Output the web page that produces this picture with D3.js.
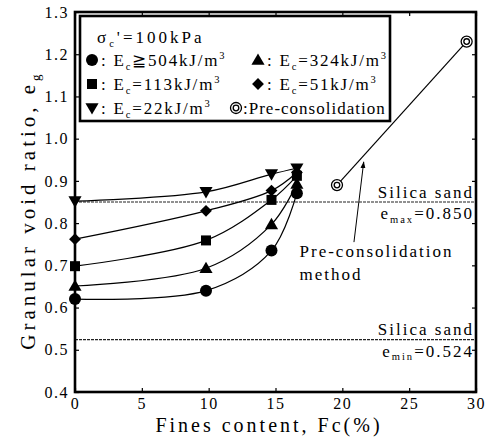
<!DOCTYPE html>
<html>
<head>
<meta charset="utf-8">
<script src="https://cdn.jsdelivr.net/npm/d3@7"></script>
<style>body { margin: 0; background: #fff; }</style>
</head>
<body>
<svg id="chart"></svg>
<script>
// Données
const fines = [0, 9.8, 14.7, 16.6];
const eg504 = [0.620, 0.640, 0.735, 0.871];
const eg324 = [0.651, 0.693, 0.797, 0.893];
const eg113 = [0.698, 0.759, 0.855, 0.912];
const eg51 = [0.762, 0.829, 0.877, 0.920];
const eg22 = [0.852, 0.874, 0.916, 0.930];
const preFines = [19.6, 29.3];
const preEg = [0.890, 1.230];
const eMax = 0.850, eMin = 0.524;
const xTicks = [0, 5, 10, 15, 20, 25, 30];
const yTicks = [0.4, 0.5, 0.6, 0.7, 0.8, 0.9, 1.0, 1.1, 1.2, 1.3];

const FONT = "Liberation Serif";
const width = 488, height = 438;
const margin = { top: 12, right: 12, bottom: 46, left: 75 };

const svg = d3.select("#chart").attr("width", width).attr("height", height)
  .attr("font-family", FONT);

const x = d3.scaleLinear().domain([0, 30]).range([margin.left, width - margin.right]);
const y = d3.scaleLinear().domain([0.4, 1.3]).range([height - margin.bottom, margin.top]);

// Symboles
function drawMarker(g, type, cx, cy) {
  if (type === "circle") {
    g.append("circle").attr("cx", cx).attr("cy", cy).attr("r", 6).attr("fill", "#000");
  } else if (type === "square") {
    g.append("rect").attr("x", cx - 5).attr("y", cy - 5).attr("width", 10).attr("height", 10).attr("fill", "#000");
  } else if (type === "up" || type === "down") {
    g.append("path")
      .attr("d", d3.symbol(d3.symbolTriangle, 75)())
      .attr("transform", `translate(${cx},${cy + (type === "up" ? 1 : -1)}) rotate(${type === "up" ? 0 : 180})`)
      .attr("fill", "#000");
  } else if (type === "diamond") {
    g.append("path")
      .attr("d", d3.symbol(d3.symbolSquare, 70)())
      .attr("transform", `translate(${cx},${cy}) rotate(45)`)
      .attr("fill", "#000");
  } else if (type === "pre") {
    g.append("circle").attr("cx", cx).attr("cy", cy).attr("r", 5.5)
      .attr("fill", "#fff").attr("stroke", "#000").attr("stroke-width", 1.3);
    g.append("circle").attr("cx", cx).attr("cy", cy).attr("r", 2.8)
      .attr("fill", "none").attr("stroke", "#000").attr("stroke-width", 1.3);
  }
}

// Texte avec indices / exposants
function richText(g, px, py, parts, size, spacing, anchor) {
  const t = g.append("text")
    .attr("x", px).attr("y", py)
    .attr("font-family", FONT)
    .attr("font-size", size)
    .attr("fill", "#000")
    .attr("text-anchor", anchor || "start")
    .attr("letter-spacing", spacing);
  let shift = 0;
  parts.forEach(p => {
    const target = p.sub ? size * 0.22 : p.sup ? -size * 0.4 : 0;
    const s = t.append("tspan").attr("dy", target - shift).text(p.t);
    if (p.sub || p.sup) s.attr("font-size", size * 0.62);
    shift = target;
  });
  return t;
}

// Lignes pointillées e_max / e_min
[eMax, eMin].forEach(v => {
  svg.append("line")
    .attr("x1", x(0)).attr("x2", x(30))
    .attr("y1", y(v)).attr("y2", y(v))
    .attr("stroke", "#222").attr("stroke-width", 1.2)
    .attr("stroke-dasharray", "3,1");
});

// Courbes
const curve = d3.line().x(d => x(d[0])).y(d => y(d[1])).curve(d3.curveCatmullRom.alpha(0.5));
const series = [
  { vals: eg504, type: "circle" },
  { vals: eg324, type: "up" },
  { vals: eg113, type: "square" },
  { vals: eg51, type: "diamond" },
  { vals: eg22, type: "down" }
];

series.forEach(s => {
  const pts = fines.map((f, i) => [f, s.vals[i]]);
  svg.append("path").attr("d", curve(pts))
    .attr("fill", "none").attr("stroke", "#000").attr("stroke-width", 1.2);
});
series.forEach(s => {
  const g = svg.append("g");
  fines.forEach((f, i) => drawMarker(g, s.type, x(f), y(s.vals[i])));
});

// Méthode de pré-consolidation
svg.append("line")
  .attr("x1", x(preFines[0])).attr("y1", y(preEg[0]))
  .attr("x2", x(preFines[1])).attr("y2", y(preEg[1]))
  .attr("stroke", "#000").attr("stroke-width", 1.2);
const gPre = svg.append("g");
preFines.forEach((f, i) => drawMarker(gPre, "pre", x(f), y(preEg[i])));

// Flèche d'annotation
svg.append("defs").append("marker")
  .attr("id", "arrow").attr("viewBox", "0 0 10 10")
  .attr("refX", 9).attr("refY", 5)
  .attr("markerWidth", 7).attr("markerHeight", 7)
  .attr("orient", "auto")
  .append("path").attr("d", "M0,1.5L10,5L0,8.5Z").attr("fill", "#000");

svg.append("line")
  .attr("x1", x(20.87)).attr("y1", y(0.755))
  .attr("x2", x(21.6)).attr("y2", y(0.945))
  .attr("stroke", "#000").attr("stroke-width", 1)
  .attr("marker-end", "url(#arrow)");

richText(svg, x(16.8), y(0.72), [{ t: "Pre-consolidation" }], 17, 2);
richText(svg, x(16.8), y(0.665), [{ t: "method" }], 17, 2);

// Étiquettes sable de silice
richText(svg, x(29.85), y(eMax) - 4, [{ t: "Silica sand" }], 17, 2, "end");
richText(svg, x(29.85), y(eMax) + 17, [{ t: "e" }, { t: "max", sub: true }, { t: "=0.850" }], 17, 2, "end");
richText(svg, x(29.85), y(eMin) - 5, [{ t: "Silica sand" }], 17, 2, "end");
richText(svg, x(29.85), y(eMin) + 17, [{ t: "e" }, { t: "min", sub: true }, { t: "=0.524" }], 17, 2, "end");

// Axes (graduations vers l'intérieur)
const xAxis = svg.append("g")
  .attr("transform", `translate(0,${y(0.4)})`)
  .call(d3.axisBottom(x).tickValues(xTicks).tickSize(-4).tickSizeOuter(0).tickPadding(5.5));
const yAxis = svg.append("g")
  .attr("transform", `translate(${x(0)},0)`)
  .call(d3.axisLeft(y).tickValues(yTicks).tickFormat(d3.format(".1f")).tickSize(-4).tickSizeOuter(0).tickPadding(6));
svg.append("g")
  .attr("transform", `translate(0,${y(1.3)})`)
  .call(d3.axisTop(x).tickValues(xTicks).tickSize(-4).tickSizeOuter(0).tickFormat(""));
svg.append("g")
  .attr("transform", `translate(${x(30)},0)`)
  .call(d3.axisRight(y).tickValues(yTicks).tickSize(-4).tickSizeOuter(0).tickFormat(""));

svg.selectAll(".domain").remove();
svg.selectAll(".tick line").attr("stroke", "#000").attr("stroke-width", 1.2);
[xAxis, yAxis].forEach(a => a.attr("font-family", FONT).attr("font-size", 16)
  .selectAll("text")
  .attr("font-family", FONT)
  .attr("letter-spacing", 1.5)
  .attr("fill", "#000"));

// Cadre
svg.append("rect")
  .attr("x", x(0)).attr("y", y(1.3))
  .attr("width", x(30) - x(0)).attr("height", y(0.4) - y(1.3))
  .attr("fill", "none").attr("stroke", "#000").attr("stroke-width", 2.6);

// Titres des axes
richText(svg, 269, 432, [{ t: "Fines content, Fc(%)" }], 20, 3, "middle");
richText(svg.append("g").attr("transform", "translate(35,210) rotate(-90)"),
  0, 0, [{ t: "Granular void ratio, e" }, { t: "g", sub: true }], 21, 4, "middle");

// Légende
const legend = svg.append("g");
legend.append("rect")
  .attr("x", 80).attr("y", 16).attr("width", 310).attr("height", 105)
  .attr("fill", "#fff").attr("stroke", "#000").attr("stroke-width", 2.6);

richText(legend, 97, 43, [{ t: "σ" }, { t: "c", sub: true }, { t: "'=100kPa" }], 17, 3);

const legendItems = [
  { type: "circle", col: 0, row: 0, parts: [{ t: ": E" }, { t: "c", sub: true }, { t: "≧504kJ/m" }, { t: "3", sup: true }] },
  { type: "up", col: 1, row: 0, parts: [{ t: ": E" }, { t: "c", sub: true }, { t: "=324kJ/m" }, { t: "3", sup: true }] },
  { type: "square", col: 0, row: 1, parts: [{ t: ": E" }, { t: "c", sub: true }, { t: "=113kJ/m" }, { t: "3", sup: true }] },
  { type: "diamond", col: 1, row: 1, parts: [{ t: ": E" }, { t: "c", sub: true }, { t: "=51kJ/m" }, { t: "3", sup: true }] },
  { type: "down", col: 0, row: 2, parts: [{ t: ": E" }, { t: "c", sub: true }, { t: "=22kJ/m" }, { t: "3", sup: true }] },
  { type: "pre", col: 1, row: 2, parts: [{ t: ":Pre-consolidation" }] }
];
legendItems.forEach(it => {
  let mx = it.col === 0 ? 92 : 258;
  if (it.type === "pre") mx = 236;
  const cy = 60 + it.row * 24;
  drawMarker(legend, it.type, mx, cy);
  richText(legend, mx + (it.type === "pre" ? 7 : 9), cy + 6, it.parts, 17, it.type === "pre" ? 1 : 1.8);
});
</script>
</body>
</html>
